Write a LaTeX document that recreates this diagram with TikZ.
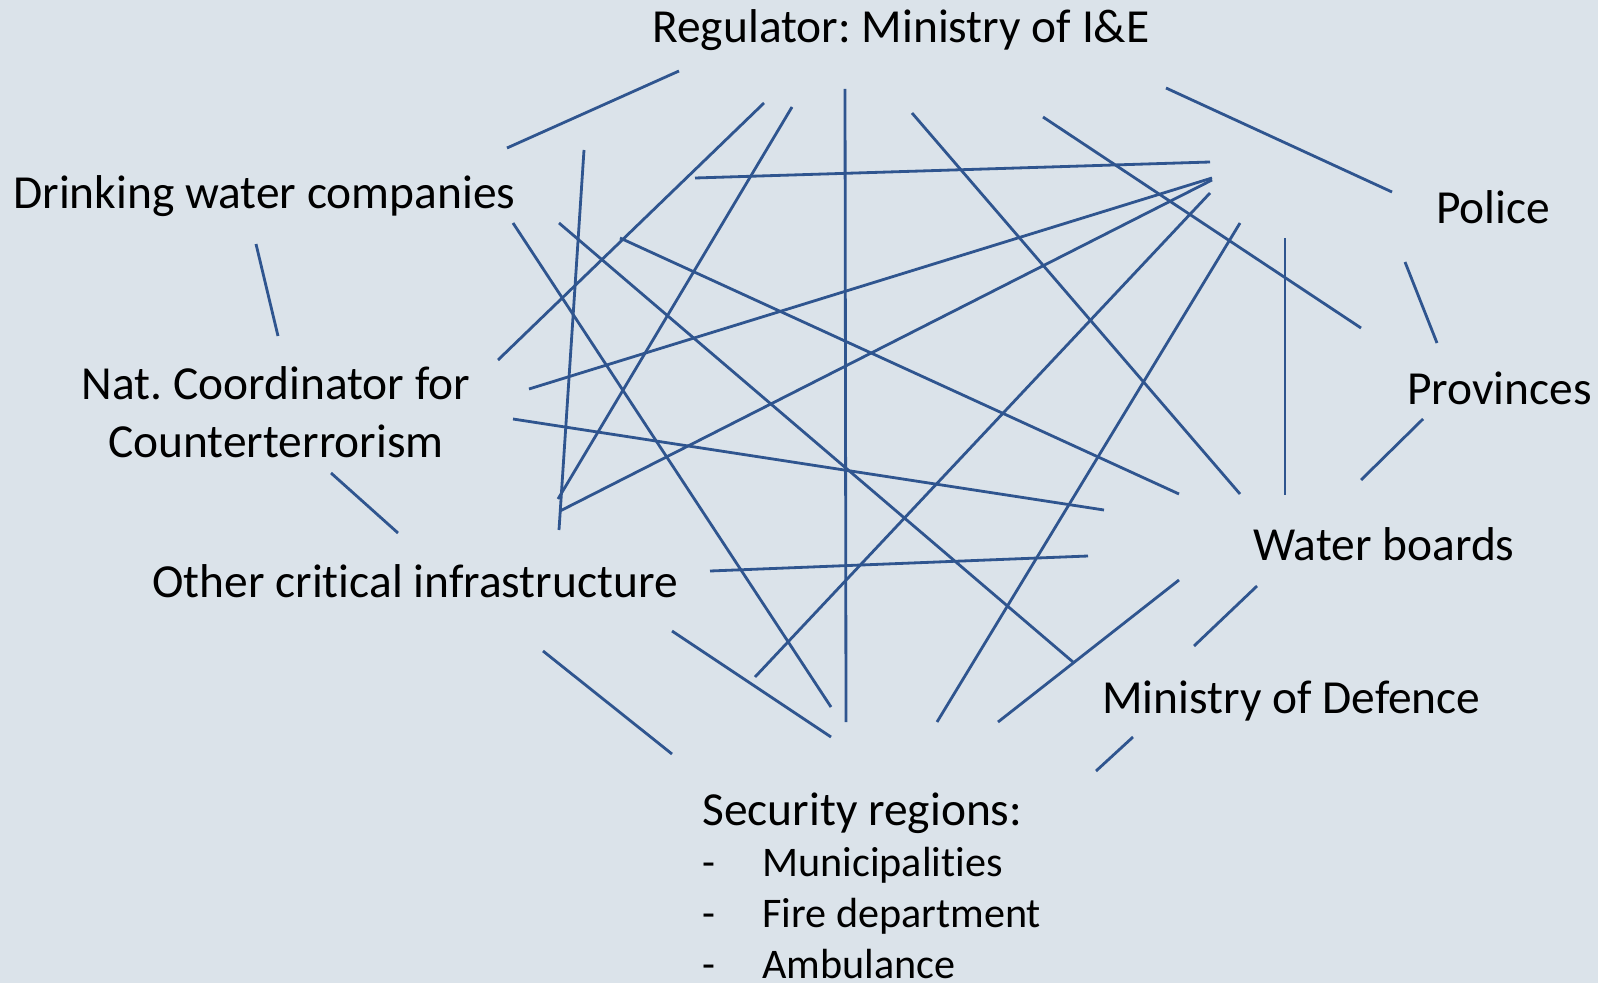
\documentclass[tikz,border=0pt]{standalone}
\usepackage{fontspec}
\setmainfont{Carlito}[Ligatures=NoCommon]
\frenchspacing
\definecolor{bgblue}{RGB}{219,227,234}
\definecolor{linkblue}{RGB}{47,85,143}
\newcommand{\listitem}[1]{{\fontsize{24}{29}\selectfont\makebox[1.2cm][l]{-}#1}}

\begin{document}
\begin{tikzpicture}[x=0.02cm, y=-0.02cm,
	actor/.style={font=\fontsize{27}{33}\selectfont, inner sep=0pt, anchor=base west},
	link/.style={draw=linkblue, line width=1.6pt}]
	\fill[bgblue] (0,0) rectangle (1598,983);
	\useasboundingbox (0,0) rectangle (1598,983);

	\node[actor] (REG) at (652,43) {Regulator: Ministry of I\&E};
	\node[actor] (DWC) at (13,209) {Drinking water companies};
	\node[actor] (POL) at (1436,223) {Police};
	\node[actor] (PRO) at (1407,404) {Provinces};
	% base anchor sits on the last line
	\node[actor, anchor=base, align=center] (NCT) at (276,457) {Nat. Coordinator for \\ Counterterrorism};
	\node[actor] (OCI) at (152,597) {Other critical infrastructure};
	\node[actor] (WB) at (1253,560) {Water boards};
	\node[actor] (MOD) at (1102,713) {Ministry of Defence};
	\node[actor, align=left, font=\fontsize{27}{29}\selectfont] (SEC) at (702,978) {Security regions:\\
		\listitem{Municipalities}\\
		\listitem{Fire department}\\
		\listitem{Ambulance}};

	% outer ring
	\coordinate (r1a) at (507,148);  \coordinate (r1b) at (679,71);
	\coordinate (r2a) at (256,244);  \coordinate (r2b) at (278,336);
	\coordinate (r3a) at (331,473);  \coordinate (r3b) at (398,533);
	\coordinate (r4a) at (543,651);  \coordinate (r4b) at (672,754);
	\coordinate (r5a) at (1166,88);  \coordinate (r5b) at (1392,192);
	\coordinate (r6a) at (1405,262); \coordinate (r6b) at (1437,343);
	\coordinate (r7a) at (1423,419); \coordinate (r7b) at (1361,480);
	\coordinate (r8a) at (1257,586); \coordinate (r8b) at (1194,646);
	\coordinate (r9a) at (1133,737); \coordinate (r9b) at (1096,771);
	\draw[link] (r1a) -- (r1b);
	\draw[link] (r2a) -- (r2b);
	\draw[link] (r3a) -- (r3b);
	\draw[link] (r4a) -- (r4b);
	\draw[link] (r5a) -- (r5b);
	\draw[link] (r6a) -- (r6b);
	\draw[link] (r7a) -- (r7b);
	\draw[link] (r8a) -- (r8b);
	\draw[link] (r9a) -- (r9b);

	% cross links
	\coordinate (c1a) at (498,360);  \coordinate (c1b) at (764,103);
	\coordinate (c2a) at (558,499);  \coordinate (c2b) at (792,107);
	\coordinate (c3a) at (845,89);   \coordinate (c3b) at (846,722);
	\coordinate (c4a) at (912,113);  \coordinate (c4b) at (1240,494);
	\coordinate (c5a) at (1043,117); \coordinate (c5b) at (1361,328);
	\coordinate (c6a) at (695,178);  \coordinate (c6b) at (1210,162);
	\coordinate (c7a) at (529,389);  \coordinate (c7b) at (1212,178);
	\coordinate (c8a) at (560,511);  \coordinate (c8b) at (1212,180);
	\coordinate (c9a) at (584,150);  \coordinate (c9b) at (559,530);
	\coordinate (c10a) at (513,223); \coordinate (c10b) at (831,707);
	\coordinate (c11a) at (559,223); \coordinate (c11b) at (1073,662);
	\coordinate (c12a) at (620,238); \coordinate (c12b) at (1179,494);
	\coordinate (c13a) at (513,419); \coordinate (c13b) at (1104,510);
	\coordinate (c14a) at (755,677); \coordinate (c14b) at (1210,193);
	\coordinate (c15a) at (937,722); \coordinate (c15b) at (1240,223);
	\coordinate (c16a) at (1285,238); \coordinate (c16b) at (1285,495);
	\coordinate (c17a) at (710,571); \coordinate (c17b) at (1088,556);
	\coordinate (c18a) at (672,631); \coordinate (c18b) at (831,737);
	\coordinate (c19a) at (998,722); \coordinate (c19b) at (1179,580);
	\draw[link] (c1a) -- (c1b);
	\draw[link] (c2a) -- (c2b);
	\draw[link] (c3a) -- (c3b);
	\draw[link] (c4a) -- (c4b);
	\draw[link] (c5a) -- (c5b);
	\draw[link] (c6a) -- (c6b);
	\draw[link] (c7a) -- (c7b);
	\draw[link] (c8a) -- (c8b);
	\draw[link] (c9a) -- (c9b);
	\draw[link] (c10a) -- (c10b);
	\draw[link] (c11a) -- (c11b);
	\draw[link] (c12a) -- (c12b);
	\draw[link] (c13a) -- (c13b);
	\draw[link] (c14a) -- (c14b);
	\draw[link] (c15a) -- (c15b);
	\draw[link] (c16a) -- (c16b);
	\draw[link] (c17a) -- (c17b);
	\draw[link] (c18a) -- (c18b);
	\draw[link] (c19a) -- (c19b);
\end{tikzpicture}
\end{document}
